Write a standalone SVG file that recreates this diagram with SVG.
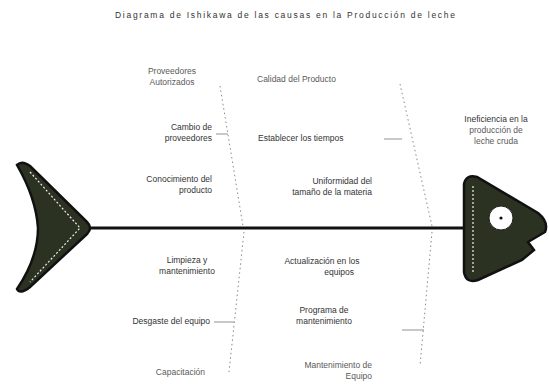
<svg xmlns="http://www.w3.org/2000/svg" width="549" height="390" viewBox="0 0 549 390">
<style>
text{font-family:"Liberation Sans",Arial,sans-serif;font-size:8.5px;fill:#5a5a5a}
.t{fill:#333}
.bone{stroke:#888;stroke-width:1;stroke-dasharray:1.5 3;fill:none}
.tick{stroke:#777;stroke-width:0.8;fill:none}
.fish{fill:#2b3222;stroke:#111;stroke-width:2.5}
.dash{stroke:#eee;stroke-width:1.2;stroke-dasharray:2 2;fill:none}
</style>
<rect width="549" height="390" fill="#fff"/>
<text x="115" y="18" textLength="340" lengthAdjust="spacing" class="t">Diagrama de Ishikawa de las causas en la Producción de leche</text>
<g id="connectors">
<line x1="90" y1="228" x2="466" y2="228" stroke="#111" stroke-width="3"/>
<line class="bone" x1="220" y1="86" x2="243" y2="226"/>
<line class="bone" x1="400" y1="84" x2="432" y2="226"/>
<line class="bone" x1="244" y1="232" x2="229" y2="372"/>
<line class="bone" x1="432" y1="232" x2="420" y2="366"/>
<line class="tick" x1="216" y1="134" x2="228" y2="134"/>
<line class="tick" x1="384" y1="139" x2="402" y2="139"/>
<line class="tick" x1="214" y1="322" x2="234" y2="322"/>
<line class="tick" x1="402" y1="330" x2="424" y2="330"/>
</g>
<g id="tail">
<path class="fish" d="M17,165 Q22,160 30,166 L87,222 Q93,228 87,234 L30,287 Q20,295 17,289 Q38,258 38,228 Q36,198 17,165 Z"/>
<path class="dash" d="M30,172 L80,228 L30,282"/>
</g>
<g id="head">
<path class="fish" d="M464,184 Q466,174 477,177 L538,213 Q549,222 545,232 L528,242 L534,250 L522,260 L478,280 Q466,284 464,272 Z"/>
<path class="dash" d="M473,186 L473,272"/>
<circle cx="501" cy="218" r="12" fill="#fff" stroke="#222" stroke-width="1"/>
<circle cx="501" cy="218" r="1.6" fill="#111"/>
</g>
<g id="n1"><text x="172" y="74" text-anchor="middle">Proveedores</text><text x="172" y="85" text-anchor="middle">Autorizados</text></g>
<g id="n2"><text x="212" y="130" text-anchor="end" class="t">Cambio de</text><text x="212" y="141" text-anchor="end" class="t">proveedores</text></g>
<g id="n3"><text x="212" y="182" text-anchor="end" class="t">Conocimiento del</text><text x="212" y="193" text-anchor="end" class="t">producto</text></g>
<g id="n4"><text x="257" y="82">Calidad del Producto</text></g>
<g id="n5"><text x="258" y="141" class="t">Establecer los tiempos</text></g>
<g id="n6"><text x="372" y="184" text-anchor="end" class="t">Uniformidad del</text><text x="372" y="195" text-anchor="end" class="t">tamaño de la materia</text></g>
<g id="n7"><text x="496" y="122" text-anchor="middle" class="t">Ineficiencia en la</text><text x="496" y="133" text-anchor="middle">producción de</text><text x="496" y="144" text-anchor="middle">leche cruda</text></g>
<g id="n8"><text x="187" y="263" text-anchor="middle" class="t">Limpieza y</text><text x="187" y="274" text-anchor="middle" class="t">mantenimiento</text></g>
<g id="n9"><text x="210" y="324" text-anchor="end" class="t">Desgaste del equipo</text></g>
<g id="n10"><text x="205" y="375" text-anchor="end">Capacitación</text></g>
<g id="n11"><text x="322" y="264" text-anchor="middle" class="t">Actualización en los</text><text x="354" y="275" text-anchor="end" class="t">equipos</text></g>
<g id="n12"><text x="324" y="313" text-anchor="middle" class="t">Programa de</text><text x="324" y="324" text-anchor="middle" class="t">mantenimiento</text></g>
<g id="n13"><text x="372" y="368" text-anchor="end">Mantenimiento de</text><text x="372" y="379" text-anchor="end">Equipo</text></g>
</svg>
